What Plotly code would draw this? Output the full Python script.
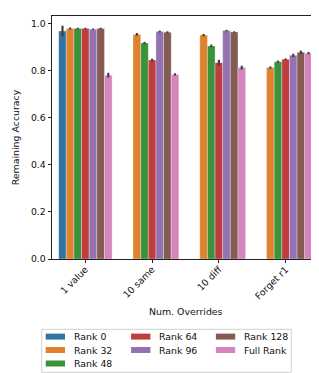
import plotly.graph_objects as go

categories = ["1 value", "10 same", "10 diff", "Forget r1"]
series_names = ["Rank 0", "Rank 32", "Rank 48", "Rank 64", "Rank 96", "Rank 128", "Full Rank"]
values = {
    "Rank 0":    [0.967, None, None, None],
    "Rank 32":   [0.978, 0.953, 0.950, 0.812],
    "Rank 48":   [0.978, 0.916, 0.904, 0.837],
    "Rank 64":   [0.978, 0.844, 0.833, 0.847],
    "Rank 96":   [0.975, 0.965, 0.969, 0.864],
    "Rank 128":  [0.978, 0.962, 0.963, 0.877],
    "Full Rank": [0.780, 0.783, 0.812, 0.873],
}
errors = {
    "Rank 0":    [0.023, 0, 0, 0],
    "Rank 32":   [0.004, 0.006, 0.005, 0.005],
    "Rank 48":   [0.003, 0.005, 0.006, 0.005],
    "Rank 64":   [0.003, 0.006, 0.012, 0.004],
    "Rank 96":   [0.003, 0.004, 0.003, 0.007],
    "Rank 128":  [0.003, 0.004, 0.003, 0.007],
    "Full Rank": [0.010, 0.005, 0.008, 0.005],
}
colors = ["#3274a1", "#e1812c", "#3a923a", "#c03d3e", "#9372b2", "#845b53", "#d684bd"]

FONT = "DejaVu Sans"
W, H = 319, 373
ML, MR, MT, MB = 44, 8.3, 7.7, 122.3
PW, PH = W - ML - MR, H - MT - MB


def px(x):
    return (x - ML) / PW


def py(y):
    return (H - MB - y) / PH


fig = go.Figure()
for name, col in zip(series_names, colors):
    fig.add_trace(go.Bar(
        x=categories, y=values[name], name=name,
        marker=dict(color=col, line=dict(color="rgba(255,255,255,0.5)", width=0.6)),
        error_y=dict(type="data", array=errors[name], color="#424242", thickness=2.2, width=0),
        showlegend=False,
    ))

axis_common = dict(showline=True, linecolor="#222", linewidth=0.9, mirror=True,
                   ticks="outside", ticklen=3.5, tickwidth=0.9, tickcolor="#222",
                   showgrid=False, zeroline=False, automargin=False,
                   tickfont=dict(family=FONT, size=9.3, color="#111"))

# legend drawn in a 3-column, column-major layout (matplotlib style)
shapes = [dict(type="rect", xref="paper", yref="paper",
               x0=px(33.7), x1=px(283), y0=py(321), y1=py(364),
               line=dict(color="#d0d0d0", width=1), fillcolor="white", layer="above")]
annotations = []
col_x0 = [37.7, 123.0, 207.7]
row_y = [328.3, 341.7, 355.2]
for i, (name, col) in enumerate(zip(series_names, colors)):
    c = 0 if i < 3 else (1 if i < 5 else 2)
    r = i if i < 3 else (i - 3 if i < 5 else i - 5)
    x0, yc = col_x0[c], row_y[r]
    shapes.append(dict(type="rect", xref="paper", yref="paper",
                       x0=px(x0), x1=px(x0 + 19.3), y0=py(yc + 3), y1=py(yc - 3),
                       line=dict(width=0), fillcolor=col, layer="above"))
    annotations.append(dict(xref="paper", yref="paper", x=px(x0 + 26.0), y=py(yc),
                            text=name, showarrow=False, xanchor="left", yanchor="middle",
                            font=dict(family=FONT, size=9.4, color="#111")))

annotations.append(dict(xref="paper", yref="paper", x=0.5, y=py(303), text="Num. Overrides",
                        showarrow=False, xanchor="center", yanchor="middle",
                        font=dict(family=FONT, size=9.4, color="#111")))

fig.update_layout(
    width=W, height=H,
    margin=dict(l=ML, r=MR, t=MT, b=MB, autoexpand=False),
    paper_bgcolor="white", plot_bgcolor="white",
    barmode="group", bargap=0.2, bargroupgap=0,
    font=dict(family=FONT, size=9.3, color="#111"),
    xaxis=dict(**axis_common, tickangle=-45, range=[-0.5, 3.5], ticklabelstandoff=-3),
    yaxis=dict(**axis_common, range=[0, 1.031], tickvals=[0, 0.2, 0.4, 0.6, 0.8, 1.0],
               ticktext=["0.0", "0.2", "0.4", "0.6", "0.8", "1.0"],
               title=dict(text="Remaining Accuracy", font=dict(family=FONT, size=9.4), standoff=9)),
    shapes=shapes, annotations=annotations,
    showlegend=False,
)
fig.write_html("out.html")
